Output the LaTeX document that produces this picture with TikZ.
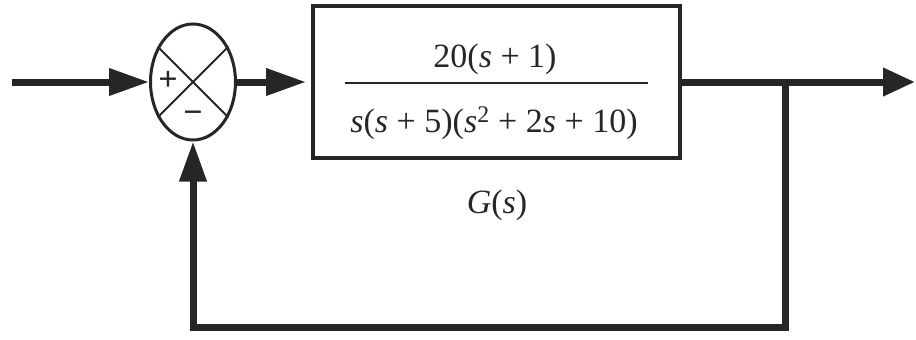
\documentclass[tikz,border=0pt]{standalone}
\usepackage{fontspec}
\setmainfont{Liberation Serif}
\newfontfamily\timesfont{Liberation Serif}
\usetikzlibrary{arrows.meta,shapes.geometric}
\definecolor{ink}{HTML}{262626}
\newcommand\vs{\textit{s}}
\tikzset{
  sig/.style={draw=ink, line width=7pt, line join=miter},
  bigtip/.style={-{Triangle[length=40pt,width=26pt]}},
  smalltip/.style={-{Triangle[length=32pt,width=27pt]}},
  blockbox/.style={draw=ink, line width=4pt, rectangle, minimum width=367pt, minimum height=152pt, inner sep=0pt},
  sumnode/.style={draw=ink, line width=3pt, ellipse, minimum width=85pt, minimum height=116pt, inner sep=0pt},
  txt/.style={text=ink, font=\timesfont\fontsize{34}{40}\selectfont, anchor=base, inner sep=0pt},
  sgn/.style={text=ink, font=\timesfont\fontsize{34}{40}\selectfont, inner sep=0pt},
  crossline/.style={draw=ink, line width=2pt},
}
\begin{document}
\begin{tikzpicture}[x=1pt, y=-1pt]
\useasboundingbox (0,0) rectangle (916,340);
% nodes
\node[sumnode] (sum) at (193,82) {};
\node[blockbox] (G) at (496.5,82) {};
\node[txt] (num) at (495,67) {20(\vs\ + 1)};
\node[txt] (den) at (494,132) {\vs(\vs\ + 5)(\vs\textsuperscript{2} + 2\vs\ + 10)};
\node[txt] (lab) at (497,213) {\textit{G}(\textit{s})};
\node[sgn] (plus) at (168,81) {\textbf{+}};
\node[sgn] (minus) at (193,117) {\textbf{−}};
% coordinates
\coordinate (in) at (12,82);
\coordinate (out) at (915,82);
\coordinate (br) at (785,82);
\coordinate (c1) at (785,327);
\coordinate (c2) at (193,327);
\coordinate (fl) at (345,83);
\coordinate (fr) at (648,83);
% fraction bar
\draw[draw=ink, line width=2pt] (fl) -- (fr);
% cross in the summing junction
\draw[crossline] (sum.45) -- (sum.225);
\draw[crossline] (sum.135) -- (sum.315);
% connectors
\draw[sig, bigtip] (in) -- (sum.west);
\draw[sig, bigtip, shorten >=5pt] (sum.east) -- (G.west);
\draw[sig, smalltip] (G.east) -- (out);
\draw[sig, bigtip] (br) -- (c1) -- (c2) -- (sum.south);
\end{tikzpicture}
\end{document}
